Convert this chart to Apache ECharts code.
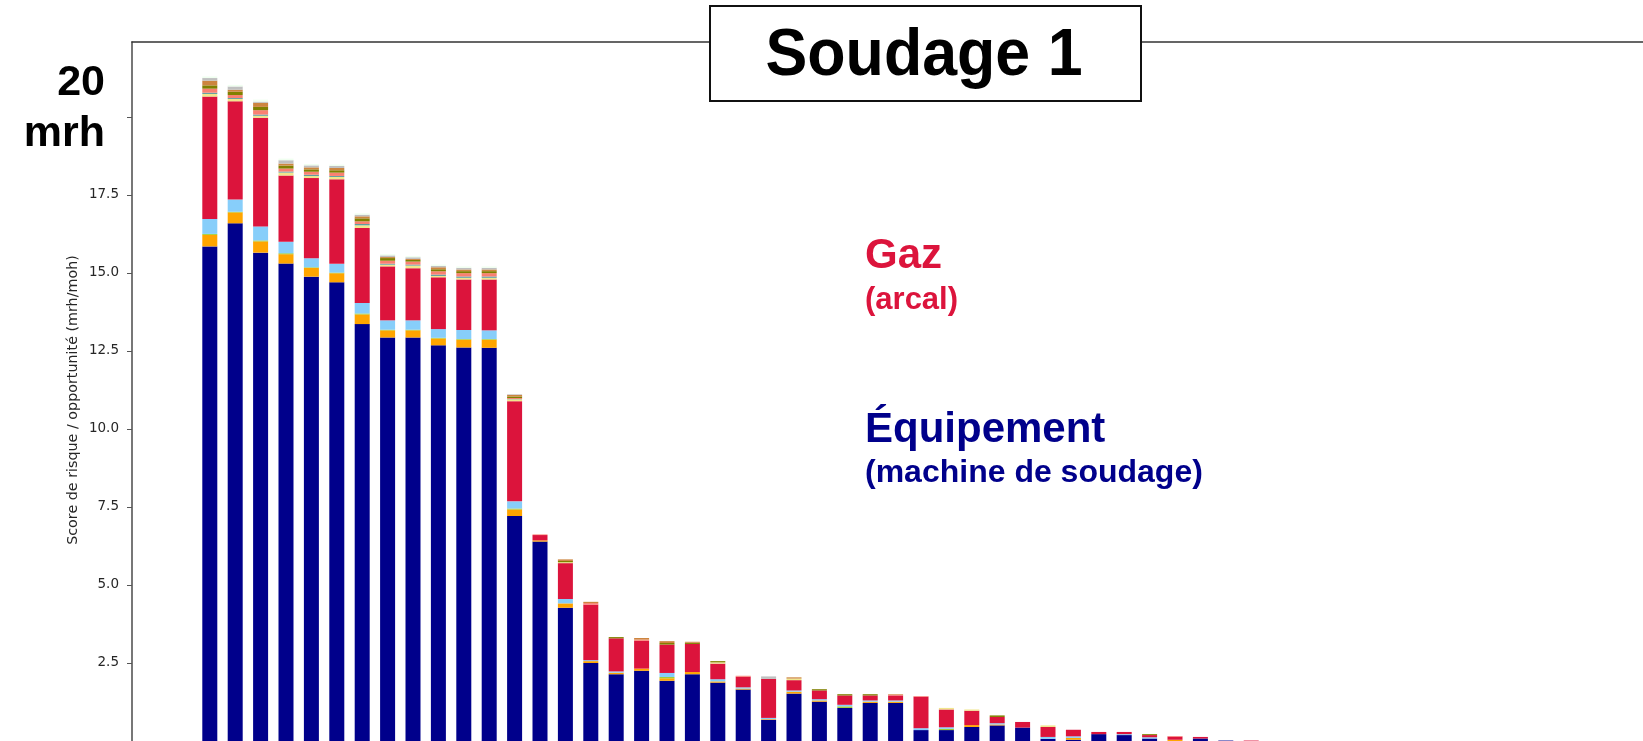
<!DOCTYPE html>
<html>
<head>
<meta charset="utf-8">
<script src="https://cdn.jsdelivr.net/npm/echarts@6/dist/echarts.min.js"></script>
<style>
  html, body { margin: 0; padding: 0; background: #fff; }
  #chart { width: 1643px; height: 741px; }
</style>
</head>
<body>
<div id="chart"></div>
<script>
// postes (barres) de gauche à droite
const categories = ["1", "2", "3", "4", "5", "6", "7", "8", "9", "10", "11", "12", "13", "14",
  "15", "16", "17", "18", "19", "20", "21", "22", "23", "24", "25", "26", "27", "28",
  "29", "30", "31", "32", "33", "34", "35", "36", "37", "38", "39", "40", "41", "42"];

// segments empilés, du bas vers le haut (mrh/moh)
const equipement = [15.85, 16.59, 15.65, 15.30, 14.88, 14.70, 13.36, 12.93, 12.93, 12.68, 12.61, 12.60,
  7.21, 6.39, 4.27, 2.50, 2.14, 2.25, 1.93, 2.14, 1.87, 1.65, 0.68, 1.52, 1.26, 1.06, 1.22, 1.22,
  0.35, 0.35, 0.45, 0.50, 0.43, 0.07, 0.04, 0.22, 0.19, 0.08, 0, 0.08, 0.015, 0];
const orange = [0.37, 0.35, 0.36, 0.30, 0.28, 0.29, 0.31, 0.23, 0.23, 0.22, 0.25, 0.26,
  0.21, 0.04, 0.14, 0.06, 0.05, 0.07, 0.08, 0.07, 0.04, 0.03, 0.02, 0.06, 0.04, 0, 0.04, 0.04,
  0, 0, 0.06, 0.03, 0, 0, 0.06, 0, 0, 0, 0.04, 0, 0, 0];
const vertJaune = [0.03, 0.02, 0.03, 0.03, 0.02, 0.02, 0.03, 0.02, 0.02, 0.02, 0.02, 0.02,
  0.03, 0, 0, 0, 0, 0, 0.04, 0, 0, 0, 0, 0, 0, 0.05, 0, 0,
  0, 0.04, 0, 0, 0, 0, 0, 0, 0, 0, 0, 0, 0, 0];
const bleuCiel = [0.48, 0.39, 0.45, 0.37, 0.29, 0.28, 0.34, 0.30, 0.30, 0.28, 0.29, 0.28,
  0.23, 0, 0.14, 0.03, 0.04, 0, 0.13, 0, 0.07, 0.04, 0.04, 0.04, 0.04, 0.05, 0.04, 0.04,
  0.06, 0.05, 0, 0.04, 0, 0.06, 0.05, 0, 0.03, 0.04, 0, 0, 0, 0];
const gaz = [3.92, 3.15, 3.48, 2.12, 2.57, 2.71, 2.40, 1.73, 1.67, 1.66, 1.62, 1.63,
  3.21, 0.17, 1.15, 1.78, 1.06, 0.89, 0.91, 0.90, 0.50, 0.34, 1.25, 0.33, 0.28, 0.30, 0.16, 0.16,
  1.01, 0.57, 0.46, 0.20, 0.18, 0.32, 0.21, 0.07, 0.07, 0.07, 0.10, 0.05, 0, 0.015];
const kaki = [0.085, 0.075, 0.065, 0.096, 0.064, 0.075, 0.085, 0.053, 0.085, 0.043, 0.053, 0.053,
  0.06, 0, 0.03, 0, 0, 0, 0, 0, 0.04, 0, 0, 0.05, 0, 0, 0, 0,
  0, 0.05, 0.04, 0, 0, 0.05, 0, 0, 0, 0, 0, 0, 0, 0];
const bleuCadet = [0.04, 0.03, 0.04, 0.032, 0.043, 0.032, 0.043, 0.032, 0.032, 0.043, 0.043, 0.043,
  0.01, 0, 0, 0, 0, 0, 0, 0, 0, 0, 0, 0, 0, 0, 0, 0,
  0, 0, 0, 0, 0, 0, 0, 0, 0, 0, 0, 0, 0, 0];
const saumon = [0.13, 0.095, 0.14, 0.096, 0.096, 0.107, 0.085, 0.096, 0.096, 0.107, 0.107, 0.107,
  0.03, 0.02, 0, 0.05, 0, 0.04, 0, 0, 0, 0.03, 0, 0, 0, 0, 0, 0.02,
  0.02, 0, 0, 0, 0, 0, 0, 0, 0, 0, 0.02, 0, 0, 0];
const olive = [0.105, 0.105, 0.105, 0.096, 0.075, 0.075, 0.096, 0.085, 0.053, 0.064, 0.064, 0.064,
  0.05, 0, 0.04, 0, 0.04, 0, 0.05, 0.04, 0.04, 0, 0, 0, 0.04, 0.04, 0.04, 0,
  0, 0, 0, 0.05, 0, 0, 0, 0, 0, 0.03, 0, 0, 0, 0];
const perou = [0.15, 0.065, 0.13, 0.064, 0.064, 0.075, 0.064, 0.032, 0.032, 0.064, 0.053, 0.053,
  0.05, 0, 0.05, 0.04, 0, 0.05, 0.06, 0.03, 0, 0, 0, 0.04, 0, 0, 0, 0.02,
  0, 0, 0, 0, 0, 0, 0, 0, 0, 0, 0, 0, 0, 0];
const argent = [0.085, 0.105, 0.04, 0.107, 0.064, 0.064, 0.053, 0.053, 0.053, 0.043, 0.053, 0.053,
  0.02, 0, 0, 0, 0, 0, 0, 0, 0, 0, 0.08, 0, 0, 0, 0, 0,
  0, 0, 0, 0, 0, 0, 0, 0, 0, 0, 0, 0, 0, 0];
const miel = [0.05, 0.05, 0.065, 0.053, 0.043, 0.043, 0.043, 0.043, 0.043, 0.043, 0.043, 0.043,
  0, 0, 0, 0, 0, 0, 0, 0, 0, 0, 0, 0, 0, 0, 0, 0,
  0, 0, 0, 0, 0, 0, 0, 0, 0, 0, 0, 0, 0, 0];

// graduations de l'axe Y
const tickValues = [0, 2.5, 5, 7.5, 10, 12.5, 15, 17.5, 20];
const tickLabels = [2.5, 5, 7.5, 10, 12.5, 15, 17.5];

const layers = [
  { name: "Équipement (machine de soudage)", color: "#00008B", values: equipement },
  { name: "Orange", color: "#FFA500", values: orange },
  { name: "Vert-jaune", color: "#9ACD32", values: vertJaune },
  { name: "Bleu ciel", color: "#87CEFA", values: bleuCiel },
  { name: "Gaz (arcal)", color: "#DC143C", values: gaz },
  { name: "Kaki", color: "#F0E68C", values: kaki },
  { name: "Bleu cadet", color: "#5F9EA0", values: bleuCadet },
  { name: "Saumon", color: "#FA8072", values: saumon },
  { name: "Olive", color: "#808000", values: olive },
  { name: "Pérou", color: "#CD853F", values: perou },
  { name: "Argent", color: "#C0C0C0", values: argent },
  { name: "Miel", color: "#F0FFF0", values: miel },
];

const Y_MAX = 22.4;
const BAND = 25.4; // largeur d'une catégorie en px
const BAR_LEFT = 197.1;

const myChart = echarts.init(document.getElementById("chart"));

const option = {
  backgroundColor: "#ffffff",
  animation: false,
  grid: [
    // cadre (axe Y + bord supérieur)
    { left: 132, right: 0, top: 42, bottom: 0 },
    // zone des barres
    { left: BAR_LEFT, width: BAND * categories.length, top: 42, bottom: 0 },
  ],
  xAxis: [
    {
      gridIndex: 0,
      type: "value",
      position: "top",
      min: 0,
      max: 1,
      axisLine: { show: true, onZero: false, lineStyle: { color: "#333", width: 1.6 } },
      axisTick: { show: false },
      axisLabel: { show: false },
      splitLine: { show: false },
    },
    {
      gridIndex: 1,
      type: "category",
      data: categories,
      show: false,
    },
  ],
  yAxis: [
    {
      gridIndex: 0,
      type: "value",
      min: 0,
      max: Y_MAX,
      axisLine: { show: true, onZero: false, lineStyle: { color: "#555", width: 1.6 } },
      axisTick: {
        show: true,
        length: 5,
        customValues: tickValues,
        lineStyle: { color: "#555", width: 1 },
      },
      axisLabel: {
        customValues: tickLabels,
        margin: 13,
        fontSize: 13.5,
        fontFamily: "DejaVu Sans",
        color: "#262626",
        formatter: (v) => v.toFixed(1),
      },
      splitLine: { show: false },
    },
    {
      gridIndex: 1,
      type: "value",
      min: 0,
      max: Y_MAX,
      show: false,
    },
  ],
  series: layers.map((l) => ({
    name: l.name,
    type: "bar",
    stack: "total",
    xAxisIndex: 1,
    yAxisIndex: 1,
    barWidth: 15,
    itemStyle: { color: l.color },
    data: l.values,
  })),
  graphic: [
    // titre encadré
    {
      type: "rect",
      left: 709,
      top: 5,
      shape: { width: 431, height: 95 },
      style: { fill: "#fff", stroke: "#111", lineWidth: 2 },
      z: 100,
    },
    {
      type: "text",
      x: 924,
      y: 57,
      scaleX: 0.95,
      style: {
        text: "Soudage 1",
        fill: "#000",
        font: "bold 66px 'Liberation Sans', Arial, sans-serif",
        align: "center",
        verticalAlign: "middle",
      },
      z: 101,
    },
    // annotation 20 mrh
    {
      type: "text",
      x: 105,
      y: 83,
      style: {
        text: "20",
        fill: "#000",
        font: "bold 43px 'Liberation Sans', Arial, sans-serif",
        align: "right",
        verticalAlign: "middle",
      },
      z: 100,
    },
    {
      type: "text",
      x: 105,
      y: 134,
      style: {
        text: "mrh",
        fill: "#000",
        font: "bold 43px 'Liberation Sans', Arial, sans-serif",
        align: "right",
        verticalAlign: "middle",
      },
      z: 100,
    },
    // titre de l'axe Y
    {
      type: "text",
      x: 73.5,
      y: 400,
      rotation: Math.PI / 2,
      style: {
        text: "Score de risque / opportunité (mrh/moh)",
        fill: "#262626",
        font: "14.3px 'DejaVu Sans', sans-serif",
        align: "center",
        verticalAlign: "middle",
      },
      z: 100,
    },
    // légendes texte
    {
      type: "text",
      x: 865,
      y: 256,
      style: {
        text: "Gaz",
        fill: "#DC143C",
        font: "bold 42px 'Liberation Sans', Arial, sans-serif",
        align: "left",
        verticalAlign: "middle",
      },
      z: 100,
    },
    {
      type: "text",
      x: 865,
      y: 300,
      style: {
        text: "(arcal)",
        fill: "#DC143C",
        font: "bold 31px 'Liberation Sans', Arial, sans-serif",
        align: "left",
        verticalAlign: "middle",
      },
      z: 100,
    },
    {
      type: "text",
      x: 865,
      y: 430,
      style: {
        text: "Équipement",
        fill: "#00008B",
        font: "bold 42px 'Liberation Sans', Arial, sans-serif",
        align: "left",
        verticalAlign: "middle",
      },
      z: 100,
    },
    {
      type: "text",
      x: 865,
      y: 473,
      style: {
        text: "(machine de soudage)",
        fill: "#00008B",
        font: "bold 32px 'Liberation Sans', Arial, sans-serif",
        align: "left",
        verticalAlign: "middle",
      },
      z: 100,
    },
  ],
};

myChart.setOption(option);
</script>
</body>
</html>
